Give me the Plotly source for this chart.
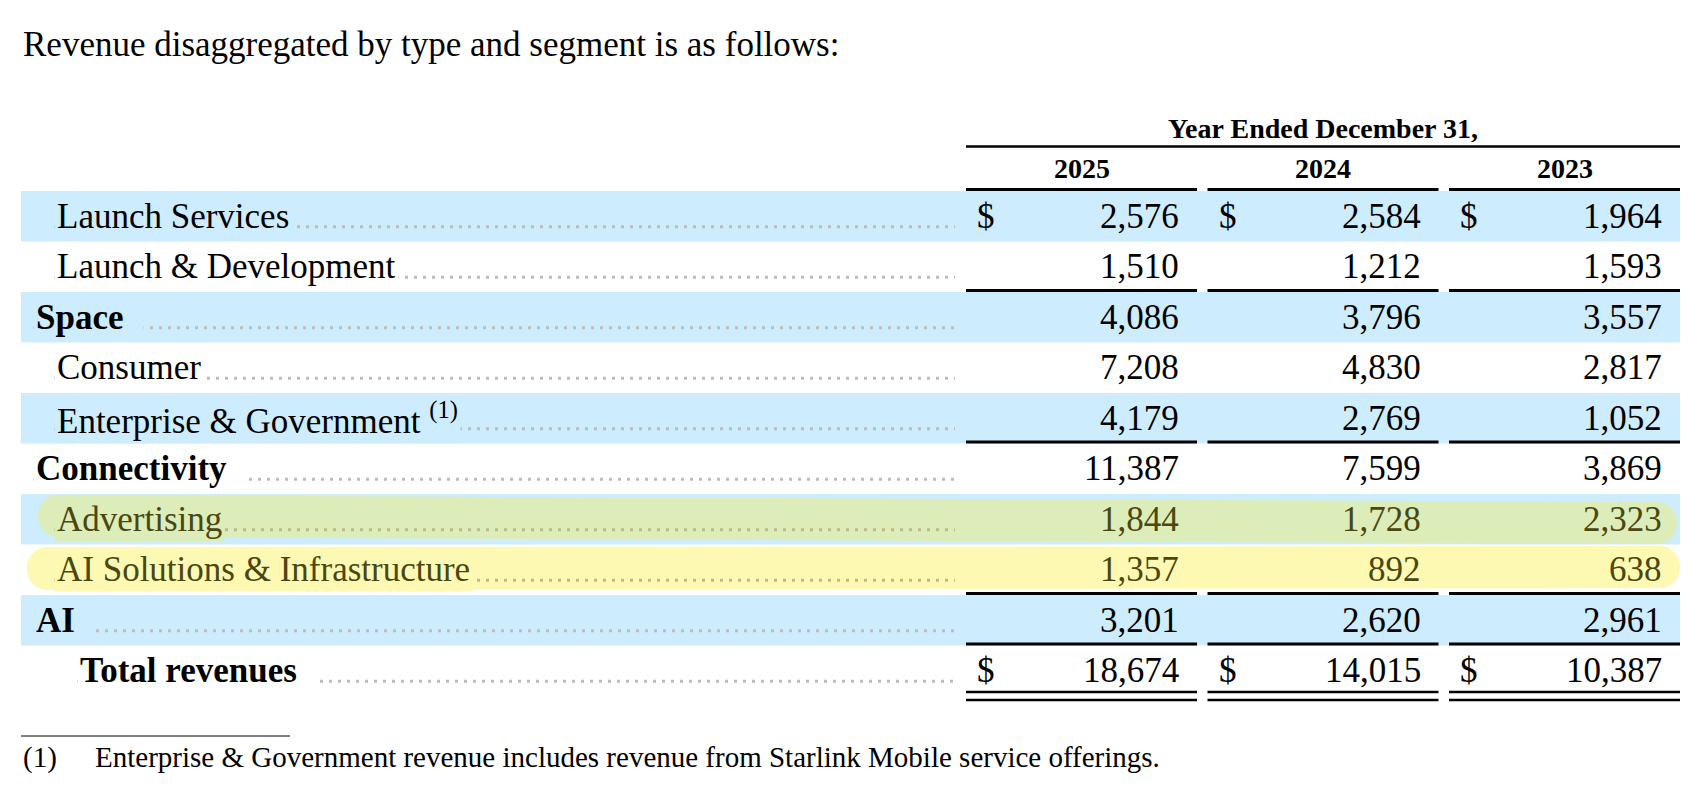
import plotly.graph_objects as go

# table content
title = "Revenue disaggregated by type and segment is as follows:"
header = "Year Ended December 31,"
years = ["2025", "2024", "2023"]
labels = [
    "Launch Services",
    "Launch & Development",
    "Space",
    "Consumer",
    "Enterprise & Government",
    "Connectivity",
    "Advertising",
    "AI Solutions & Infrastructure",
    "AI",
    "Total revenues",
]
rev_2025 = [2576, 1510, 4086, 7208, 4179, 11387, 1844, 1357, 3201, 18674]
rev_2024 = [2584, 1212, 3796, 4830, 2769, 7599, 1728, 892, 2620, 14015]
rev_2023 = [1964, 1593, 3557, 2817, 1052, 3869, 2323, 638, 2961, 10387]
footnote_mark = "(1)"
footnote = "Enterprise & Government revenue includes revenue from Starlink Mobile service offerings."

# row styling
row_kind = ["item", "item", "sub", "item", "item", "sub", "item", "item", "sub", "total"]
footnote_row = 4
dollar_rows = [0, 9]
rule_below = [1, 4, 7, 8]

FONT = "Liberation Serif, Times New Roman, serif"
BLUE = "#cdecfe"
GREEN_HL = "#dcedb9"
YELLOW_HL = "#fdf9b3"
OLIVE = "#4a4710"
DOTS = "#bdbdbd"
DOTS_HL = "#bdb98a"

W, H = 1702, 796
PAD = 8  # default body margin of the html page

TABLE_L, TABLE_R = 21, 1680
TOP, ROW_H = 191, 50.5
COL_L, COL_STEP, COL_W = 966, 241.5, 231
LEADER_END = 955
INDENT = {"item": 54, "sub": 33, "total": 77}
TEXT_SIZE = 35
HEAD_SIZE = 28

# highlighter strokes: row -> (colour, left x, right x, top/bottom offsets at left and right)
highlights = {
    6: (GREEN_HL, 38, 1677, 1, -7.5, 8, -0.5),
    7: (YELLOW_HL, 27, 1680, 2.5, -5, 1.5, -7),
}


def row_top(i):
    return TOP + i * ROW_H


def row_mid(i):
    return TOP + (i + 0.5) * ROW_H


def col_left(k):
    return COL_L + k * COL_STEP


def hl_path(x0, x1, yt0, yb0, yt1, yb1):
    r0 = (yb0 - yt0) / 2
    r1 = (yb1 - yt1) / 2
    c0 = x0 + r0 - 4 * r0 / 3
    c1 = x1 - r1 + 4 * r1 / 3
    return (
        f"M {x0 + r0},{yt0} L {x1 - r1},{yt1} "
        f"C {c1},{yt1} {c1},{yb1} {x1 - r1},{yb1} "
        f"L {x0 + r0},{yb0} C {c0},{yb0} {c0},{yt0} {x0 + r0},{yt0} Z"
    )


fig = go.Figure()
shapes = []
annotations = []


def text(x, y, s, size=TEXT_SIZE, anchor="left", color="black", bg=None):
    ann = dict(
        x=x, y=y, text=s, xref="x", yref="y", showarrow=False,
        xanchor=anchor, yanchor="middle",
        font=dict(family=FONT, size=size, color=color),
    )
    if bg is not None:
        ann.update(bgcolor=bg, borderpad=2)
    annotations.append(ann)


def hline(x0, x1, y, width=3, color="black", dash=None):
    shapes.append(dict(
        type="line", xref="x", yref="y", x0=x0, x1=x1, y0=y, y1=y,
        line=dict(color=color, width=width, dash=dash), layer="below",
    ))


# banded rows
for i in range(len(labels)):
    if i % 2 == 0 and i < len(labels) - 1:
        shapes.append(dict(
            type="rect", xref="x", yref="y", x0=TABLE_L, x1=TABLE_R,
            y0=row_top(i), y1=row_top(i + 1), fillcolor=BLUE,
            line=dict(width=0), layer="below",
        ))

# highlighter marks
for i, (col, x0, x1, dt0, db0, dt1, db1) in highlights.items():
    shapes.append(dict(
        type="path", xref="x", yref="y",
        path=hl_path(x0, x1, row_top(i) + dt0, row_top(i + 1) + db0,
                     row_top(i) + dt1, row_top(i + 1) + db1),
        fillcolor=col, line=dict(width=0), layer="below",
    ))

# dotted leaders
for i, kind in enumerate(row_kind):
    hline(INDENT[kind], LEADER_END, row_mid(i) + 10.5, width=3,
          color=DOTS_HL if i in highlights else DOTS, dash="3px,6px")

# header rules
hline(COL_L, TABLE_R, 146.5, width=2.5)
for k in range(len(years)):
    hline(col_left(k), col_left(k) + COL_W, TOP - 1.5)
    for i in rule_below:
        hline(col_left(k), col_left(k) + COL_W, row_top(i + 1) - 1.5)
    last = row_top(len(labels))
    hline(col_left(k), col_left(k) + COL_W, last - 4, width=2.5)
    hline(col_left(k), col_left(k) + COL_W, last + 4, width=2.5)

# footnote rule
hline(TABLE_L, 290, 736, width=1)

# title and column headings
text(TABLE_L, 44, title)
text((COL_L + TABLE_R) / 2, 128.5, f"<b>{header}</b>", size=HEAD_SIZE, anchor="center")
for k, yr in enumerate(years):
    text(col_left(k) + COL_W / 2, 168.5, f"<b>{yr}</b>", size=HEAD_SIZE, anchor="center")

# body
columns = [rev_2025, rev_2024, rev_2023]
for i, (lab, kind) in enumerate(zip(labels, row_kind)):
    if i in highlights:
        bg, color = highlights[i][0], OLIVE
    elif i % 2 == 0 and i < len(labels) - 1:
        bg, color = BLUE, "black"
    else:
        bg, color = "white", "black"
    s = lab
    if i == footnote_row:
        s += f" <sup>{footnote_mark}</sup>"
    if kind != "item":
        s = f"<b>{s}</b>\u00a0\u00a0"
    text(INDENT[kind], row_mid(i), s, color=color, bg=bg)
    for k, vals in enumerate(columns):
        if i in dollar_rows:
            text(col_left(k) + 9, row_mid(i), "$", color=color)
        text(col_left(k) + COL_W - 16, row_mid(i), f"{vals[i]:,}", anchor="right", color=color)

# footnote
text(TABLE_L, 757, footnote_mark, size=29)
text(93, 757, footnote, size=29)

fig.update_layout(
    width=W - 2 * PAD,
    height=H - 2 * PAD,
    margin=dict(l=0, r=0, t=0, b=0),
    paper_bgcolor="white",
    plot_bgcolor="white",
    showlegend=False,
    shapes=shapes,
    annotations=annotations,
)
fig.update_xaxes(range=[PAD, W - PAD], visible=False, fixedrange=True)
fig.update_yaxes(range=[H - PAD, PAD], visible=False, fixedrange=True)

fig.write_html("out.html", config={"displayModeBar": False})
